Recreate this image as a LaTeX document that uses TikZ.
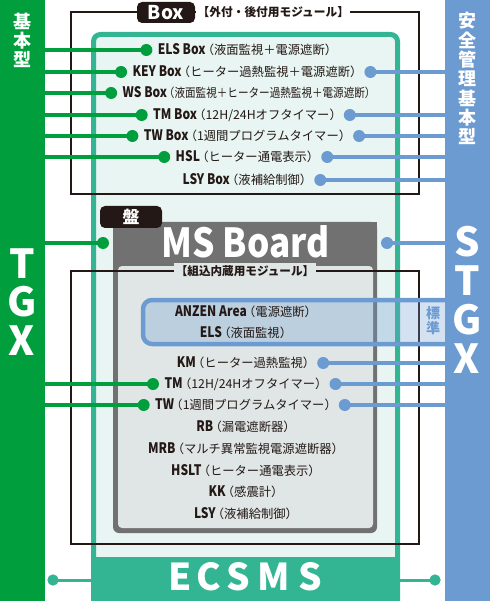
\documentclass[tikz,border=0pt]{standalone}
\usepackage{fontspec}
\usepackage{graphicx}
\setmainfont{Noto Sans CJK JP}
\usetikzlibrary{calc}
\definecolor{cgreen}{HTML}{009E3D}
\definecolor{cblue}{HTML}{6C9BD2}
\definecolor{cteal}{HTML}{33B594}
\definecolor{cmint}{HTML}{E8F5F2}
\definecolor{cgrey}{HTML}{717171}
\definecolor{cinner}{HTML}{DFE6E5}
\definecolor{cdark}{HTML}{231815}
\newcommand{\lat}[1]{{\fontsize{14.5}{15}\selectfont\bfseries\scalebox{0.83}[1]{#1}}}
\newcommand{\jpn}[1]{{\fontsize{12.3}{13}\selectfont\hspace{-0.3em}（#1）\hspace{-0.3em}}}
\newcommand{\jpns}[1]{{\fontsize{12.3}{13}\selectfont\scalebox{0.86}[1]{\hspace{-0.3em}（#1）\hspace{-0.3em}}}}
\begin{document}
\begin{tikzpicture}[x=1pt,y=-1pt,
  row/.style={inner sep=0pt, outer sep=0pt, text=cdark, anchor=base},
  gdot/.style={circle, fill=cgreen, inner sep=0pt, minimum size=12pt},
  bdot/.style={circle, fill=cblue, inner sep=0pt, minimum size=12pt},
  tdot/.style={circle, fill=cteal, inner sep=0pt, minimum size=11pt},
  gline/.style={draw=cgreen, line width=4.5pt},
  bline/.style={draw=cblue, line width=4.5pt},
  tline/.style={draw=cteal, line width=3pt},
  frame/.style={draw=cdark, line width=1.3pt},
  bigw/.style={text=white, inner sep=0pt, anchor=base, font=\fontsize{40}{40}\selectfont\bfseries},
  vjp/.style={text=white, inner sep=0pt, font=\fontsize{18}{18}\selectfont\bfseries},
  darklabel/.style={fill=cdark, text=white, rounded corners=5pt, inner sep=0pt},
  bar/.style={inner sep=0pt, outer sep=0pt, minimum width=45pt, minimum height=601pt}
]
\useasboundingbox (0,0) rectangle (490,601);
% ECSMS frame
\draw[cteal, line width=5pt, fill=cmint, rounded corners=7pt] (93.5,615) -- (93.5,34.5) -- (397.5,34.5) -- (397.5,615);
\node[fill=cteal, inner sep=0pt, outer sep=0pt, minimum width=309pt, minimum height=44pt, anchor=north west] (band) at (91,557) {};
\foreach \l/\x [count=\i] in {E/180,C/209,S/238,M/274,S/310}
  \node[text=white, inner sep=0pt, anchor=base, font=\fontsize{37}{37}\selectfont\bfseries] (ec\i) at (\x,590.5) {\l};
% MS Board
\fill[cgrey, rounded corners=6pt] (113,222) rectangle (377,533);
\fill[cgrey] (113,222) rectangle (377,240);
\fill[cinner, rounded corners=4pt] (118,266) rectangle (373,528);
\node[text=white, inner sep=0pt, anchor=base, font=\fontsize{40}{40}\selectfont\bfseries] (msb) at (245.5,257.5) {\scalebox{0.88}[1]{MS Board}};
\node[darklabel, minimum width=62pt, minimum height=22pt, font=\fontsize{17}{17}\selectfont\bfseries] (ban) at (131,217) {盤};
% black frames
\draw[frame] (71,12) rectangle (419,194);
\draw[frame] (71,271) rectangle (419,544);
\node[darklabel, minimum width=58pt, minimum height=21pt, font=\fontsize{19}{19}\selectfont\bfseries] (boxl) at (166,12.5) {Box};
\node[fill=white, inner sep=1.5pt, anchor=west, text=cdark, font=\fontsize{11.7}{12}\selectfont\bfseries] (boxt) at (196,12) {【外付・後付用モジュール】};
\node[fill=cinner, inner sep=2pt, text=cdark, font=\fontsize{11.6}{12}\selectfont\bfseries] (inl) at (245,271) {【組込内蔵用モジュール】};
% ANZEN band
\draw[cblue, line width=4.5pt, fill=cblue, fill opacity=0.3, rounded corners=9pt] (470,300) -- (143,300) -- (143,344) -- (470,344);
\node[text=cblue, inner sep=0pt, font=\fontsize{14}{14}\selectfont\bfseries] (hy1) at (433,313) {標};
\node[text=cblue, inner sep=0pt, font=\fontsize{14}{14}\selectfont\bfseries] (hy2) at (433,328) {準};
% bars
\node[bar, fill=cgreen, anchor=north west] (lbar) at (0,0) {};
\node[bar, fill=cblue, anchor=north east] (rbar) at (490,0) {};
\foreach \c/\y [count=\i] in {基/21,本/41,型/60}
  \node[vjp] (kl\i) at (22,\y) {\c};
\foreach \c/\y [count=\i] in {安/21,全/40.3,管/59.7,理/79,基/98.3,本/117.7,型/137}
  \node[vjp] (kr\i) at (467,\y) {\c};
\foreach \l/\y [count=\i] in {T/278,G/316,X/355}
  \node[bigw] (tg\i) at (22,\y) {\l};
\foreach \l/\y [count=\i] in {S/256.5,T/295.5,G/334.5,X/373.5}
  \node[bigw] (st\i) at (467,\y) {\l};
% Box rows
\node[row] (r1) at (247.5,54.8) {\lat{ELS Box}\jpn{液面監視＋電源遮断}};
\node[row] (r2) at (247.5,76.8) {\lat{KEY Box}\jpn{ヒーター過熱監視＋電源遮断}};
\node[row] (r3) at (247.5,97.8) {\lat{WS Box}\jpns{液面監視＋ヒーター過熱監視＋電源遮断}};
\node[row] (r4) at (247.5,119.8) {\lat{TM Box}\jpn{12H/24Hオフタイマー}};
\node[row] (r5) at (247.5,140.8) {\lat{TW Box}\jpn{1週間プログラムタイマー}};
\node[row] (r6) at (247.5,161.8) {\lat{HSL}\jpn{ヒーター通電表示}};
\node[row] (r7) at (247.5,184.8) {\lat{LSY Box}\jpn{液補給制御}};
% inner rows
\node[row] (s1) at (246,316.8) {\lat{ANZEN Area}\jpn{電源遮断}};
\node[row] (s2) at (246,337.8) {\lat{ELS}\jpn{液面監視}};
\node[row] (s3) at (246,367.8) {\lat{KM}\jpn{ヒーター過熱監視}};
\node[row] (s4) at (246,388.8) {\lat{TM}\jpn{12H/24Hオフタイマー}};
\node[row] (s5) at (246,409.8) {\lat{TW}\jpn{1週間プログラムタイマー}};
\node[row] (s6) at (246,431.8) {\lat{RB}\jpn{漏電遮断器}};
\node[row] (s7) at (246,453.8) {\lat{MRB}\jpn{マルチ異常監視電源遮断器}};
\node[row] (s8) at (246,475.8) {\lat{HSLT}\jpn{ヒーター通電表示}};
\node[row] (s9) at (246,496.8) {\lat{KK}\jpn{感震計}};
\node[row] (s10) at (246,518.8) {\lat{LSY}\jpn{液補給制御}};
% green connectors
\foreach \r in {r1,r2,r3,r4,r5,r6,s4,s5} {
  \coordinate (gc\r) at ($(\r.base west)+(-11.5,-4.8)$);
  \draw[gline] (gc\r) -- (gc\r -| lbar.east);
  \node[gdot] (gd\r) at (gc\r) {};
}
% blue connectors
\foreach \r in {r2,r4,r5,r6,r7,s3,s4,s5} {
  \coordinate (bc\r) at ($(\r.base east)+(8,-4.8)$);
  \draw[bline] (bc\r) -- (bc\r -| rbar.west);
  \node[bdot] (bd\r) at (bc\r) {};
}
% MS Board connectors
\coordinate (gms) at (103,243);
\draw[gline] (gms) -- (gms -| lbar.east);
\node[gdot] (gdms) at (gms) {};
\coordinate (bms) at (387,243);
\draw[bline] (bms) -- (bms -| rbar.west);
\node[bdot] (bdms) at (bms) {};
% ECSMS connectors
\node[tdot] (tl) at (53,580) {};
\draw[tline] (tl.center) -- (tl -| band.west);
\node[tdot] (tr) at (435,580) {};
\draw[tline] (tr.center) -- (tr -| band.east);
\node[tdot] at (tl) {};
\node[tdot] at (tr) {};
\end{tikzpicture}
\end{document}
